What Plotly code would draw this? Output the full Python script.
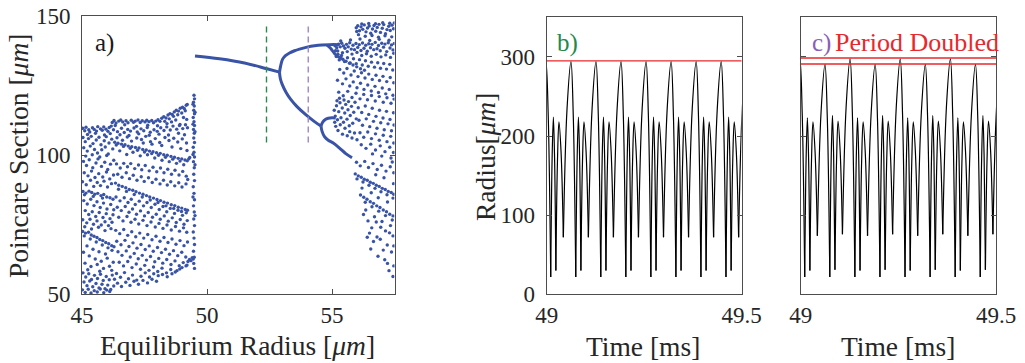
import plotly.graph_objects as go

W, H = 1025, 363

# ---------------- Panel a: bifurcation data ----------------
chaos_left = [
 (45.03,109.6),(45.11,108.7),(45.16,110.0),(45.27,109.1),(45.31,108.3),(45.42,109.8),(45.49,109.2),(45.58,108.6),(45.63,110.2),(45.74,109.4),
 (45.81,108.9),(45.87,110.1),(45.96,109.3),(46.04,108.5),(46.09,109.9),(46.17,110.4),(45.22,107.4),(45.54,107.8),(45.9,107.2),(46.13,107.7),
 (46.21,111.7),(46.28,112.4),(46.36,111.5),(46.47,112.2),(46.55,112.6),(46.63,111.9),(46.76,112.3),(46.84,111.6),(46.97,112.5),(47.06,111.8),
 (47.13,112.2),(47.24,112.6),(47.33,111.7),(47.41,112.3),(47.52,111.9),(47.59,112.5),(47.68,112.0),(47.79,112.4),(47.86,111.6),(47.95,112.2),
 (48.04,112.7),(48.12,112.1),(46.33,110.6),(46.71,110.9),(47.18,110.3),(47.63,110.7),(48.02,110.5),
 (48.19,113.2),(48.27,113.8),(48.36,113.3),(48.44,114.4),(48.52,114.9),(48.61,114.6),(48.69,115.5),(48.77,116.1),(48.86,115.8),(48.93,116.8),
 (49.02,117.2),(49.09,116.7),(49.17,117.9),(49.21,118.2),(48.31,112.1),(48.49,113.0),(48.66,113.9),(48.83,114.5),(48.99,115.1),(49.13,115.9),
 (48.4,111.3),(48.75,112.6),(49.06,113.5),(49.19,112.8),(48.58,111.9),(48.92,111.0),
 (46.26,109.1),(46.42,108.4),(46.58,109.6),(46.69,108.1),(46.83,109.2),(46.94,108.6),(47.08,109.7),(47.21,108.3),(47.36,109.4),(47.47,108.7),
 (47.61,109.9),(47.73,108.2),(47.88,109.1),(48.01,108.5),(48.15,109.8),(48.28,108.8),(48.39,110.1),(48.53,109.0),(48.64,110.4),(48.79,109.3),
 (48.9,110.6),(49.03,109.5),(49.14,110.9),(49.22,109.8),
 (46.52,107.3),(46.88,107.0),(47.27,107.6),(47.69,107.1),(48.08,107.5),(48.46,107.2),(48.86,107.8),(49.1,107.3),
 (45.04,106.3),(45.13,104.8),(45.26,105.9),(45.37,106.7),(45.44,104.1),(45.57,105.4),(45.68,106.4),(45.76,103.7),(45.89,105.1),(45.97,106.6),
 (46.08,104.3),(46.19,105.7),(45.07,102.6),(45.21,101.4),(45.33,103.2),(45.5,102.0),(45.62,100.7),(45.79,101.9),(45.93,102.9),(46.05,100.4),
 (46.23,102.2),(45.15,99.6),(45.41,100.1),(45.71,99.3),(45.99,99.8),
 (46.31,104.6),(46.44,104.2),(46.58,103.9),(46.72,103.7),(46.85,103.2),(46.99,103.0),(47.14,102.7),(47.28,102.5),(47.43,102.0),(47.57,101.8),
 (47.7,101.4),(47.84,101.2),(47.98,100.8),(48.13,100.6),(48.27,100.1),(48.41,99.9),(48.56,99.5),(48.7,99.2),(48.85,98.8),(48.99,98.6),
 (49.12,98.2),(49.21,97.9),(49.27,98.6),(49.31,99.1),
 (46.37,103.6),(46.66,103.1),(46.93,102.4),(47.22,101.7),(47.5,101.1),(47.79,100.5),(48.06,99.9),(48.34,99.2),(48.63,98.5),(48.92,97.8),
 (46.4,106.2),(46.62,105.3),(46.81,106.5),(46.98,105.0),(47.19,106.1),(47.38,105.6),(47.55,106.7),(47.74,104.8),(47.93,105.9),(48.11,104.5),
 (48.32,106.3),(48.48,105.2),(48.67,106.0),(48.83,104.7),(49.01,105.8),(49.18,104.3),(46.51,101.5),(46.79,100.2),(47.04,101.0),(47.33,99.7),
 (47.62,100.1),(47.91,98.9),(48.2,98.1),(48.49,97.6),(48.78,97.0),(49.07,96.5),(49.2,101.6),(48.95,102.3),(48.6,102.9),(48.19,103.4),
 (47.8,103.9),(47.45,104.3),
 (45.06,97.7),(45.18,96.2),(45.29,98.3),(45.43,95.4),(45.56,97.1),(45.64,98.6),(45.78,95.9),(45.91,97.4),(46.03,94.8),(46.14,96.7),
 (46.27,98.1),(45.09,93.6),(45.24,92.5),(45.38,94.2),(45.52,91.9),(45.67,93.3),(45.83,92.1),(45.98,93.9),(46.11,91.4),(46.26,92.8),
 (45.02,90.4),(45.17,89.3),(45.34,90.9),(45.47,88.7),(45.61,90.1),(45.74,89.0),(45.88,90.6),(46.02,88.5),(46.18,89.7),
 (46.38,96.8),(46.53,95.3),(46.67,97.0),(46.82,95.8),(46.95,96.9),(47.11,95.1),(47.26,96.4),(47.39,94.7),(47.53,96.2),(47.69,94.3),
 (47.84,95.6),(47.99,94.0),(48.14,95.3),(48.28,93.6),(48.43,94.9),(48.58,93.1),(48.72,94.5),(48.88,92.8),(49.03,94.1),(49.17,92.4),
 (46.43,93.1),(46.6,92.0),(46.77,93.6),(46.9,91.5),(47.05,92.7),(47.2,90.9),(47.37,92.2),(47.49,90.5),(47.66,91.8),(47.81,90.1),
 (47.96,91.3),(48.12,89.6),(48.26,90.9),(48.41,89.2),(48.55,90.4),(48.71,88.9),(48.87,90.0),(49.0,88.5),(49.16,89.6),(49.23,91.2),
 (45.04,86.9),(45.16,86.3),(45.28,87.0),(45.39,86.5),(45.51,85.9),(45.63,86.2),(45.76,85.4),(45.87,85.8),(45.99,84.9),(46.12,84.6),
 (46.24,84.1),(45.1,85.7),(45.45,85.1),(45.82,84.5),
 (46.34,89.9),(46.47,89.1),(46.61,88.7),(46.75,88.2),(46.89,87.6),(47.03,87.3),(47.16,86.8),(47.3,86.3),(47.44,85.9),(47.58,85.4),
 (47.71,84.9),(47.86,84.5),(48.0,84.0),(48.14,83.6),(48.28,83.0),(48.42,82.7),(48.57,82.1),(48.71,81.8),(48.85,81.2),(48.99,80.9),
 (49.13,80.4),(49.22,80.1),(46.46,87.7),(46.78,86.9),(47.09,85.8),(47.41,84.9),(47.73,83.8),(48.04,82.9),(48.36,81.7),(48.67,80.8),(48.98,79.7),
 (45.07,83.6),(45.21,82.4),(45.35,84.1),(45.48,81.8),(45.6,83.2),(45.73,81.1),(45.86,82.7),(46.0,80.6),(46.15,82.2),(46.27,80.3),
 (45.13,80.0),(45.27,78.6),(45.41,79.6),(45.55,77.9),(45.69,79.3),(45.84,77.5),(45.97,78.9),(46.12,77.1),(46.24,78.5),(45.03,76.7),
 (45.19,75.6),(45.32,76.9),(45.46,75.1),(45.6,76.3),(45.77,74.8),(45.92,76.0),(46.06,74.6),(46.2,75.8),
 (46.36,84.9),(46.52,83.5),(46.69,84.6),(46.84,82.9),(46.97,84.1),(47.13,82.2),(47.29,83.4),(47.46,81.7),(47.6,82.9),(47.77,81.1),
 (47.92,82.3),(48.09,80.4),(48.24,81.5),(48.39,79.6),(48.53,80.8),(48.7,79.0),(48.84,80.1),(49.02,78.3),(49.17,79.2),
 (46.41,81.2),(46.57,80.0),(46.73,81.5),(46.88,79.4),(47.02,80.6),(47.18,78.7),(47.34,79.9),(47.5,78.1),(47.65,79.3),(47.82,77.6),
 (47.97,78.7),(48.13,76.9),(48.29,78.1),(48.45,76.2),(48.61,77.4),(48.77,75.7),(48.93,76.8),(49.08,75.1),(49.21,76.4),
 (46.47,77.6),(46.64,76.3),(46.8,77.9),(46.96,75.8),(47.12,76.9),(47.27,75.2),(47.44,76.5),(47.6,74.6),(47.76,75.9),(47.93,74.1),
 (48.08,75.4),(48.24,73.6),(48.4,74.8),(48.57,73.0),(48.74,74.3),(48.9,72.6),(49.06,73.8),(49.19,72.2),
 (45.03,72.5),(45.14,71.9),(45.26,72.2),(45.37,71.2),(45.48,70.8),(45.6,70.3),(45.71,69.6),(45.83,69.2),(45.95,68.5),(46.07,68.1),
 (46.19,67.4),(46.28,67.0),(45.09,70.9),(45.33,69.8),(45.57,68.7),(45.81,67.6),(46.04,66.6),
 (45.11,74.2),(45.38,73.4),(45.66,74.0),(45.92,72.8),(46.16,73.5),(45.2,67.3),(45.44,66.1),(45.68,65.2),(45.94,64.4),(46.2,65.7),
 (45.06,65.0),(45.29,63.7),(45.53,62.6),(45.77,61.8),(46.01,62.9),(46.25,61.4),(45.12,61.1),(45.36,59.9),(45.61,60.6),(45.86,59.2),
 (46.1,60.0),(45.23,58.7),(45.71,58.2),(46.19,58.5),
 (46.35,72.9),(46.51,71.7),(46.67,73.2),(46.83,71.1),(46.99,72.4),(47.15,70.6),(47.31,71.9),(47.47,70.1),(47.63,71.4),(47.8,69.5),
 (47.96,70.8),(48.12,69.0),(48.28,70.3),(48.44,68.5),(48.6,69.8),(48.76,67.9),(48.92,69.2),(49.08,67.4),(49.22,68.7),
 (46.39,69.0),(46.56,67.7),(46.72,69.3),(46.88,67.1),(47.04,68.4),(47.2,66.5),(47.36,67.8),(47.53,66.0),(47.69,67.3),(47.85,65.4),
 (48.02,66.7),(48.18,64.9),(48.34,66.1),(48.5,64.3),(48.66,65.6),(48.83,63.8),(48.99,65.0),(49.15,63.3),
 (46.44,65.2),(46.6,63.9),(46.77,65.5),(46.93,63.3),(47.09,64.6),(47.25,62.7),(47.41,63.9),(47.58,62.2),(47.74,63.5),(47.91,61.6),
 (48.07,62.8),(48.23,61.1),(48.39,62.4),(48.56,60.6),(48.72,61.9),(48.89,60.2),(49.05,61.3),(49.2,60.4),
 (46.49,61.4),(46.66,60.1),(46.83,61.7),(47.0,59.5),(47.17,60.8),(47.34,58.9),(47.51,60.3),(47.68,58.5),(47.86,59.7),(48.03,58.1),
 (48.2,59.3),(48.38,57.6),(48.55,58.8),(48.73,57.9),(48.91,59.0),
 (49.24,61.7),(49.3,62.4),(49.36,62.0),(49.41,63.1),(49.45,62.6),
 (45.04,57.6),(45.15,56.1),(45.27,57.3),(45.38,55.2),(45.5,56.7),(45.62,55.6),(45.74,57.1),(45.85,54.9),(45.97,56.3),(46.09,55.1),
 (46.21,56.8),(46.3,55.3),(45.08,54.3),(45.2,53.0),(45.31,54.7),(45.43,52.6),(45.56,53.8),(45.68,52.2),(45.8,53.5),(45.92,51.9),
 (46.03,53.2),(46.15,51.6),(46.27,52.9),(45.02,51.5),(45.13,50.6),(45.25,51.7),(45.36,50.4),(45.49,51.2),(45.61,50.7),(45.73,51.8),
 (45.87,50.5),(45.99,51.4),(46.11,50.9),
 (46.38,57.4),(46.54,56.0),(46.7,57.7),(46.86,55.5),(47.02,56.8),(47.19,55.0),(47.36,56.4),(47.53,57.6),(47.7,56.1),(47.87,57.3),
 (48.05,56.6),(48.22,57.0),(48.41,56.2),(48.6,57.3),(48.8,58.4),(49.0,59.5),(49.16,60.1),
 (46.42,53.9),(46.58,52.7),(46.75,54.2),(46.92,53.1),(47.08,54.6),(47.26,53.5),(47.44,54.9),(47.62,54.0),(47.8,55.3),(47.98,54.6),
 (49.48,121.5),(49.5,120.2),(49.46,119.0),(49.49,117.6),(49.47,116.1),(49.5,114.8),(49.45,113.5),(49.48,112.0),(49.5,110.6),(49.46,109.2),
 (49.49,107.8),(49.47,106.1),(49.5,104.5),(49.45,102.8),(49.48,101.0),(49.5,99.3),(49.46,97.6),(49.49,95.4),(49.47,93.1),(49.5,90.8),
 (49.45,88.6),(49.48,86.2),(49.5,83.9),(49.46,81.7),(49.49,79.5),(49.47,77.0),(49.5,74.6),(49.45,72.3),(49.48,70.1),(49.5,67.8),
 (49.46,65.4),(49.49,63.2),(49.47,61.0),(49.5,59.2),(49.44,118.3),(49.52,115.4),(49.44,111.1),(49.52,108.4),(49.44,100.2),(49.52,96.5),
 (49.44,84.9),(49.52,78.2),
]

chaos_right = [
 (55.12,139.3),(55.19,138.6),(55.26,139.9),(55.33,138.9),(55.39,140.2),(55.46,139.2),(55.52,138.4),(55.58,139.8),(55.65,138.9),(55.71,140.4),
 (55.77,138.1),(55.84,139.5),(55.9,137.9),(55.96,140.1),(56.03,138.7),(56.09,139.7),(56.16,137.6),(56.22,140.3),(56.28,138.4),(56.35,139.5),
 (56.41,137.3),(56.47,140.0),(56.54,138.6),(56.6,139.8),(56.67,137.9),(56.73,140.5),(56.8,138.2),(56.86,139.4),(56.93,137.5),(56.99,140.2),
 (57.06,138.8),(57.12,139.9),(57.19,137.2),(57.25,140.4),(57.32,138.5),(57.38,139.6),(57.44,137.8),(57.49,140.1),
 (55.23,137.4),(55.42,136.8),(55.61,137.2),(55.8,136.3),(56.0,136.9),(56.19,135.8),(56.38,136.4),(56.57,135.5),(56.77,136.2),(56.96,135.3),
 (57.15,136.0),(57.34,135.1),(57.47,136.6),(55.35,141.0),(55.74,141.4),(56.12,141.7),(56.51,141.2),(56.89,141.6),(57.28,141.3),
 (55.97,145.8),(56.03,146.5),(56.1,144.7),(56.16,146.1),(56.23,145.2),(56.29,146.8),(56.36,144.3),(56.42,145.7),(56.49,146.4),(56.55,143.8),
 (56.62,145.3),(56.68,146.6),(56.75,144.5),(56.81,145.9),(56.88,147.0),(56.94,144.1),(57.01,145.6),(57.07,146.9),(57.14,143.6),(57.2,145.1),
 (57.27,146.3),(57.33,144.8),(57.4,146.7),(57.46,145.4),(57.49,147.5),(56.06,143.3),(56.33,142.7),(56.6,143.0),(56.86,142.4),(57.12,142.9),
 (57.39,142.5),(56.19,147.1),(56.47,147.3),(56.74,147.2),(57.03,147.6),(57.31,147.4),(55.99,144.4),
 (55.17,135.4),(55.29,134.2),(55.38,135.8),(55.5,133.6),(55.62,135.0),(55.73,133.1),(55.86,134.6),(55.97,132.8),(56.1,134.3),(56.21,132.4),
 (56.34,133.9),(56.45,131.9),(56.58,133.4),(56.7,131.6),(56.83,133.2),(56.94,131.2),(57.07,132.9),(57.18,130.9),(57.31,132.6),(57.43,130.6),
 (55.14,137.5),(55.24,136.2),(55.33,135.2),(55.44,134.4),(55.56,133.7),(55.7,133.0),(55.84,132.4),(55.99,131.7),(56.14,131.0),(56.3,130.5),
 (55.31,130.8),(55.47,129.5),(55.6,131.1),(55.76,128.8),(55.89,130.2),(56.04,128.2),(56.18,129.6),(56.32,127.7),(56.47,129.1),(56.61,127.2),
 (56.76,128.7),(56.9,126.8),(57.04,128.3),(57.19,126.4),(57.33,127.9),(57.47,126.0),
 (55.22,126.9),(55.42,125.6),(55.56,127.4),(55.71,124.8),(55.85,126.3),(56.0,124.2),(56.14,125.8),(56.28,123.6),(56.43,125.2),(56.57,123.0),
 (56.72,124.7),(56.86,122.5),(57.01,124.1),(57.15,122.0),(57.29,123.6),(57.44,121.5),
 (55.27,122.6),(55.45,121.3),(55.63,122.9),(55.8,120.7),(55.96,122.2),(56.12,120.2),(56.27,121.8),(56.42,119.9),(56.58,121.4),(56.73,119.4),
 (56.89,121.0),(57.05,119.0),(57.2,120.6),(57.36,118.6),(57.48,120.1),
 (55.09,116.1),(55.13,114.0),(55.18,117.7),(55.22,112.7),(55.27,115.6),(55.32,118.8),(55.36,113.4),(55.41,116.9),(55.46,111.8),(55.51,115.1),
 (55.55,118.2),(55.6,112.9),(55.64,116.3),(55.69,110.5),(55.73,114.2),(55.78,117.5),(55.83,111.4),(55.87,115.4),(55.92,119.0),(55.97,113.0),
 (55.15,110.3),(55.24,108.8),(55.33,110.9),(55.42,107.5),(55.52,109.6),(55.61,106.9),(55.71,108.4),(55.8,106.1),(55.9,107.9),(56.0,105.5),
 (55.11,111.8),(55.2,119.5),(55.3,120.4),(55.48,119.8),(55.66,119.2),
 (56.05,117.0),(56.19,115.3),(56.33,117.6),(56.47,114.6),(56.61,116.8),(56.76,113.9),(56.9,116.1),(57.04,113.3),(57.18,115.7),(57.32,112.8),
 (57.46,115.2),(56.08,112.5),(56.22,110.7),(56.37,113.0),(56.51,110.2),(56.66,112.1),(56.8,109.6),(56.95,111.6),(57.09,109.1),(57.24,111.2),
 (57.38,108.7),(57.48,110.8),(56.12,108.0),(56.27,106.4),(56.43,108.3),(56.58,105.9),(56.74,107.6),(56.89,105.3),(57.05,107.1),(57.2,104.8),
 (57.35,106.7),(57.47,104.3),(56.17,103.7),(56.36,102.4),(56.55,103.9),(56.74,101.8),(56.93,103.3),(57.12,101.2),(57.31,102.8),(57.46,100.9),
 (56.62,100.4),(56.99,99.6),(57.36,98.9),
 (55.93,93.2),(56.05,92.5),(56.17,92.0),(56.29,91.3),(56.41,90.9),(56.53,90.2),(56.65,89.8),(56.77,89.1),(56.89,88.7),(57.01,88.0),
 (57.13,87.6),(57.25,86.9),(57.37,86.5),(57.47,85.9),(56.0,91.4),(56.24,90.3),(56.48,89.1),(56.72,88.0),(56.96,86.8),(57.2,85.7),(57.44,84.5),
 (56.14,85.6),(56.27,84.8),(56.4,84.1),(56.53,83.2),(56.66,82.6),(56.79,81.7),(56.92,81.1),(57.05,80.2),(57.18,79.6),(57.31,78.7),
 (57.44,78.1),(56.33,83.0),(56.6,81.4),(56.87,79.8),(57.14,78.2),(57.41,76.6),
 (55.98,97.4),(56.13,96.1),(56.31,97.7),(56.46,95.5),(56.64,96.9),(56.81,94.8),(56.98,96.3),(57.16,94.2),(57.33,95.8),(57.47,93.6),
 (56.2,88.1),(56.57,86.4),(56.85,84.6),(57.22,83.1),(57.46,89.7),(57.08,91.8),(56.75,92.9),(57.41,97.5),
 (56.26,78.6),(56.44,76.3),(56.59,73.8),(56.77,75.9),(56.95,74.0),(57.14,72.7),(57.34,74.6),(56.41,70.4),(56.66,68.9),(56.93,69.7),
 (57.21,67.6),(57.44,70.9),(56.55,66.2),(56.84,63.6),(57.11,62.3),(57.38,65.1),(57.47,60.1),(57.28,58.4),(57.44,56.3),(57.05,65.8),
 (56.35,80.2),(56.7,77.8),(57.0,76.1),(57.3,72.0),(57.47,67.3),(56.5,71.9),(56.8,70.5),(57.22,61.0),
]

# periodic branches (curves through points)
branch_p1 = [(49.52,135.6),(50.5,134.6),(51.5,133.1),(52.4,131.0),(52.9,129.8)]
branch_p2_up = [(52.9,129.8),(52.94,131.8),(53.02,134.4),(53.15,135.8),(53.3,136.7),(53.5,137.5),(53.7,138.1),
                (54.0,138.8),(54.3,139.3),(54.6,139.6),(54.9,139.7),(55.3,139.7)]
branch_p2_low = [(52.9,129.8),(52.93,127.6),(53.0,125.6),(53.16,122.6),(53.35,120.0),(53.6,117.4),(53.95,114.5),
                 (54.3,112.0),(54.56,110.4)]
branch_p4_up = [(54.56,110.4),(54.62,111.7),(54.72,112.7),(54.85,113.2),(55.0,113.4),(55.15,113.3)]
branch_p4_low = [(54.56,110.4),(54.6,108.6),(54.7,106.6),(54.85,105.3),(55.05,104.3),(55.3,102.5),(55.55,100.5),(55.8,99.0)]
branch_p4_top = [(54.8,139.5),(54.95,138.3),(55.1,136.5),(55.25,135.3),(55.45,134.4)]

green_dash_x, purple_dash_x = 52.38, 54.05
dash_y = [104.5, 147.0]

# ---------------- Panels b and c: radius vs time ----------------
# one oscillation cycle: times after each big peak (ms) and radii (um)
cycle_offset = [0.0, 0.0058, 0.0122, 0.0158, 0.0190, 0.0221, 0.0254, 0.0295, 0.0333, 0.0387, 0.0446, 0.0540]
b_cycle_r    = [294, 226, 22, 172, 224, 172, 30, 168, 218, 180, 72, 234]
c_high_r     = [297.5, 228, 22, 172, 223, 172, 30, 168, 218, 180, 74, 230]
c_low_r      = [290.5, 223, 22, 173, 226, 173, 31, 169, 219, 181, 76, 237]
peak_times   = [48.9339, 48.9981, 49.0623, 49.1265, 49.1907, 49.2549, 49.3191, 49.3833, 49.4475, 49.5117]
c_cycle_kind = ["L", "H", "L", "H", "L", "H", "L", "H", "L", "H"]
b_ref = [295.0]
c_ref = [298.5, 291.0]

BLUE = "#3953a6"
FONT = "Liberation Serif"

def build_series(cycles):
    ts, rs = [], []
    for t0, vals in cycles:
        for o, v in zip(cycle_offset, vals):
            ts.append(t0 + o)
            rs.append(v)
    return ts, rs

def arch_segments(ts, rs):
    # split the curve at its troughs so each arch is smoothed alone (sharp cusps at the minima)
    mins = [i for i in range(1, len(rs) - 1) if rs[i] < rs[i-1] and rs[i] < rs[i+1]]
    xs, ys = [], []
    for a, b in zip(mins[:-1], mins[1:]):
        xs += ts[a:b+1] + [None]
        ys += rs[a:b+1] + [None]
    return xs, ys

tb, rb = build_series([(t, b_cycle_r) for t in peak_times])
tc, rc = build_series([(t, c_high_r if k == "H" else c_low_r) for t, k in zip(peak_times, c_cycle_kind)])

fig = go.Figure()

pts = chaos_left + chaos_right
fig.add_trace(go.Scatter(x=[p[0] for p in pts], y=[p[1] for p in pts], mode="markers",
                         marker=dict(size=3.4, color=BLUE, line=dict(width=0)),
                         xaxis="x", yaxis="y", showlegend=False, hoverinfo="skip"))
for br in [branch_p1, branch_p2_up, branch_p2_low, branch_p4_up, branch_p4_low, branch_p4_top]:
    fig.add_trace(go.Scatter(x=[p[0] for p in br], y=[p[1] for p in br], mode="lines",
                             line=dict(color=BLUE, width=3, shape="spline"),
                             xaxis="x", yaxis="y", showlegend=False, hoverinfo="skip"))
for xv, col in [(green_dash_x, "#2a8a4e"), (purple_dash_x, "#a384c8")]:
    fig.add_trace(go.Scatter(x=[xv, xv], y=dash_y, mode="lines",
                             line=dict(color=col, width=1.4, dash="6px,4px"),
                             xaxis="x", yaxis="y", showlegend=False, hoverinfo="skip"))

for (ts, rs, refs, xa, ya) in [(tb, rb, b_ref, "x2", "y2"), (tc, rc, c_ref, "x3", "y3")]:
    xs, ys = arch_segments(ts, rs)
    fig.add_trace(go.Scatter(x=xs, y=ys, mode="lines",
                             line=dict(color="black", width=1.2, shape="spline", smoothing=1.0),
                             xaxis=xa, yaxis=ya, showlegend=False, hoverinfo="skip"))
    for rv in refs:
        fig.add_trace(go.Scatter(x=[49, 49.5], y=[rv, rv], mode="lines", line=dict(color="#e8282d", width=1.4),
                                 xaxis=xa, yaxis=ya, showlegend=False, hoverinfo="skip"))

def px(x): return x / W
def py(y): return 1 - y / H

axcommon = dict(showline=True, linecolor="#4d4d4d", linewidth=1, mirror="ticks", ticks="inside",
                ticklen=5, tickcolor="#4d4d4d", showgrid=False, zeroline=False, automargin=False,
                tickfont=dict(family=FONT, size=23, color="#262626"))
xcommon = dict(ticklabelstandoff=0, **axcommon)
ycommon = dict(ticklabelstandoff=6, **axcommon)

fig.update_layout(
    template="none",
    width=W, height=H, margin=dict(l=0, r=0, t=0, b=0, autoexpand=False),
    paper_bgcolor="white", plot_bgcolor="white",
    xaxis=dict(domain=[px(82), px(394.5)], range=[45, 57.5], tickvals=[45, 50, 55], anchor="y", **xcommon),
    yaxis=dict(domain=[py(294), py(16)], range=[50, 150], tickvals=[50, 100, 150], anchor="x", **ycommon),
    xaxis2=dict(domain=[px(546.7), px(741.7)], range=[49, 49.5], tickvals=[49, 49.5], ticktext=["49", "49.5"], anchor="y2", **xcommon),
    yaxis2=dict(domain=[py(294.3), py(17.3)], range=[0, 350], tickvals=[0, 100, 200, 300], anchor="x2", **ycommon),
    xaxis3=dict(domain=[px(800.7), px(996)], range=[49, 49.5], tickvals=[49, 49.5], ticktext=["49", "49.5"], anchor="y3", **xcommon),
    yaxis3=dict(domain=[py(294.3), py(17.3)], range=[0, 350], tickvals=[0, 100, 200, 300], showticklabels=False, anchor="x3", **ycommon),
)

def ann(text, x, y, size=27.5, color="#262626", angle=0):
    fig.add_annotation(text=text, x=px(x), y=py(y), xref="paper", yref="paper", showarrow=False,
                       xanchor="center", yanchor="middle", textangle=angle,
                       font=dict(family=FONT, size=size, color=color))

ann("Equilibrium Radius [<i>μm</i>]", 237, 345)
ann("Poincare Section [<i>μm</i>]", 18, 156, angle=-90)
ann("Radius[<i>μm</i>]", 485, 157, angle=-90)
ann("Time [ms]", 643, 346)
ann("Time [ms]", 898, 346)
ann("a)", 104, 43, size=25, color="#1a1a1a")
ann("b)", 567, 43, size=25, color="#1f8a4c")
ann("c)", 821, 43, size=25, color="#8a5fb5")
ann("Period Doubled", 917, 43, size=26, color="#e8282d")

fig.write_html("out.html")
